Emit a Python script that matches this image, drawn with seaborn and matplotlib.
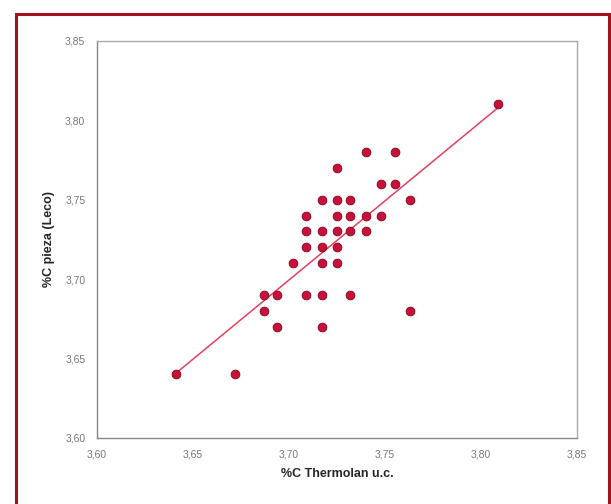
import numpy as np
import pandas as pd
import matplotlib
matplotlib.use('Agg')
import matplotlib.pyplot as plt
import seaborn as sns
from matplotlib.patches import Rectangle
from matplotlib.ticker import FuncFormatter

sns.set_style('white')
plt.rcParams['font.family'] = ['Liberation Sans', 'DejaVu Sans']

# %C Thermolan u.c. (x) vs %C pieza (Leco) (y)
thermolan = [3.641, 3.672,
             3.740, 3.755,
             3.725,
             3.748, 3.755,
             3.717, 3.725, 3.732, 3.763,
             3.709, 3.725, 3.732, 3.740, 3.748,
             3.709, 3.717, 3.725, 3.732, 3.740,
             3.709, 3.717, 3.725,
             3.702, 3.717, 3.725,
             3.687, 3.694, 3.709, 3.717, 3.732,
             3.687, 3.763,
             3.694, 3.717,
             3.809]
leco = [3.64, 3.64,
        3.78, 3.78,
        3.77,
        3.76, 3.76,
        3.75, 3.75, 3.75, 3.75,
        3.74, 3.74, 3.74, 3.74, 3.74,
        3.73, 3.73, 3.73, 3.73, 3.73,
        3.72, 3.72, 3.72,
        3.71, 3.71, 3.71,
        3.69, 3.69, 3.69, 3.69, 3.69,
        3.68, 3.68,
        3.67, 3.67,
        3.81]

x_ticks = [3.60, 3.65, 3.70, 3.75, 3.80, 3.85]
y_ticks = [3.60, 3.65, 3.70, 3.75, 3.80, 3.85]

df = pd.DataFrame({'thermolan': thermolan, 'leco': leco})

fig = plt.figure(figsize=(6.11, 5.04), dpi=100)
ax = fig.add_axes([0.159, 0.131, 0.785, 0.788])

sns.regplot(data=df, x='thermolan', y='leco', ci=None, truncate=True, ax=ax,
            scatter_kws=dict(s=40, color='#c8103a', edgecolor='#7a0a1e',
                             linewidths=0.6, alpha=1, zorder=3),
            line_kws=dict(color='#e8405a', lw=1.1, zorder=2))

ax.set_xlim(3.60, 3.85)
ax.set_ylim(3.60, 3.85)
ax.set_xticks(x_ticks)
ax.set_yticks(y_ticks)
fmt = FuncFormatter(lambda v, p: f'{v:.2f}'.replace('.', ','))
ax.xaxis.set_major_formatter(fmt)
ax.yaxis.set_major_formatter(fmt)
ax.tick_params(axis='both', direction='inout', length=5, width=0.8,
               color='#888888', labelsize=7.5, labelcolor='#777777', pad=6)

for name, s in ax.spines.items():
    s.set_visible(True)
    s.set_linewidth(1.0)
    s.set_color('#888888' if name in ('left', 'bottom') else '#aaaaaa')

ax.set_xlabel('%C Thermolan u.c.', fontsize=9, fontweight='bold', labelpad=6)
ax.set_ylabel('%C pieza (Leco)', fontsize=9, fontweight='bold', labelpad=7)

# dark red frame around the figure
fig.patches.append(Rectangle((16 / 611, -0.05), (609 - 16) / 611, 1.05 - 14 / 504,
                             transform=fig.transFigure, fill=False,
                             edgecolor='#a0121c', linewidth=2.2, clip_on=False))

plt.savefig('out.png', dpi=100)
plt.close('all')
